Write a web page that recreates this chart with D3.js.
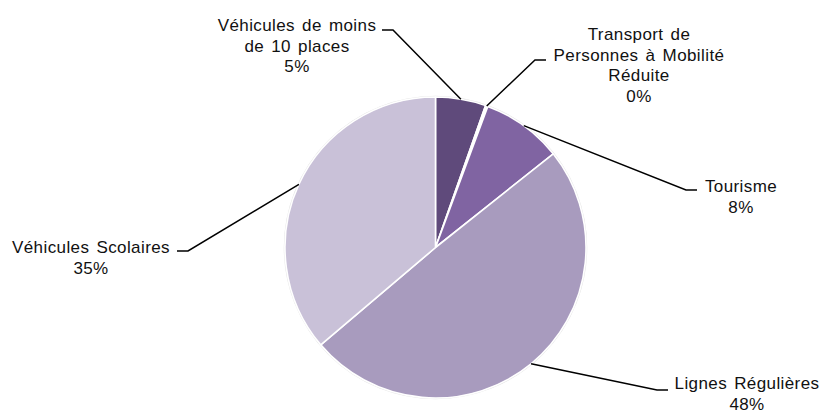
<!DOCTYPE html>
<html>
<head>
<meta charset="utf-8">
<script src="https://cdn.jsdelivr.net/npm/d3@7"></script>
<style>
  body { margin: 0; background: #fff; }
  text { font-family: "Liberation Sans", Arial, sans-serif; font-size: 17px; fill: #111; letter-spacing: 0.4px; word-spacing: 2px; }
</style>
</head>
<body>
<svg id="chart" width="823" height="412"></svg>
<script>
// Data: categories, shares and the percent labels shown
var categories = ["Véhicules de moins de 10 places", "Transport de Personnes à Mobilité Réduite", "Tourisme", "Lignes Régulières", "Véhicules Scolaires"];
var shares = [5.4, 0.25, 8.65, 49.5, 36.2];
var pctLabels = ["5%", "0%", "8%", "48%", "35%"];
var labelLines = [
  ["Véhicules de moins", "de 10 places"],
  ["Transport de", "Personnes à Mobilité", "Réduite"],
  ["Tourisme"],
  ["Lignes Régulières"],
  ["Véhicules Scolaires"]
];
var colors = ["#5f4a7b", "#ffffff", "#8064a2", "#a89bbe", "#c9c1d8"];

// Label layout: elbow point, direction of the short horizontal tick, text centre and first baseline
var labelLayout = [
  { ex: 393, ey: 30, dir: -1, tx: 297, ty: 31 },
  { ex: 535, ey: 60, dir: 1, tx: 639, ty: 40 },
  { ex: 686, ey: 190, dir: 1, tx: 741, ty: 192 },
  { ex: 657, ey: 390, dir: 1, tx: 747, ty: 389 },
  { ex: 188, ey: 251, dir: -1, tx: 91, ty: 253 }
];

var svg = d3.select("#chart");
var cx = 435.5, cy = 247.5, radius = 150.5;
var lineHeight = 20.5;

var g = svg.append("g").attr("transform", "translate(" + cx + "," + cy + ")");

var pie = d3.pie().sort(null).value(d => d)(shares);
var arc = d3.arc().innerRadius(0).outerRadius(radius);
var edgeArc = d3.arc().innerRadius(radius).outerRadius(radius);

// Faint shadow around the pie
g.append("circle")
  .attr("r", radius + 0.5)
  .attr("fill", "none")
  .attr("stroke", "#e4e4e4")
  .attr("stroke-width", 1.5);

g.selectAll("path.slice")
  .data(pie)
  .enter().append("path")
  .attr("class", "slice")
  .attr("d", arc)
  .attr("fill", (d, i) => colors[i])
  .attr("stroke", "#fff")
  .attr("stroke-width", 1.6)
  .attr("stroke-linejoin", "round");

// Leader lines
pie.forEach(function(d, i) {
  var L = labelLayout[i];
  var p = edgeArc.centroid(d);
  var pts = [[p[0] + cx, p[1] + cy], [L.ex, L.ey], [L.ex + L.dir * 11, L.ey]];
  svg.append("path")
    .attr("d", d3.line()(pts))
    .attr("fill", "none")
    .attr("stroke", "#000")
    .attr("stroke-width", 1.5);
});

// Labels
labelLayout.forEach(function(L, i) {
  var lines = labelLines[i].concat([pctLabels[i]]);
  var t = svg.append("text").attr("text-anchor", "middle");
  lines.forEach(function(s, j) {
    t.append("tspan")
      .attr("x", L.tx)
      .attr("y", L.ty + j * lineHeight)
      .text(s);
  });
});
</script>
</body>
</html>
